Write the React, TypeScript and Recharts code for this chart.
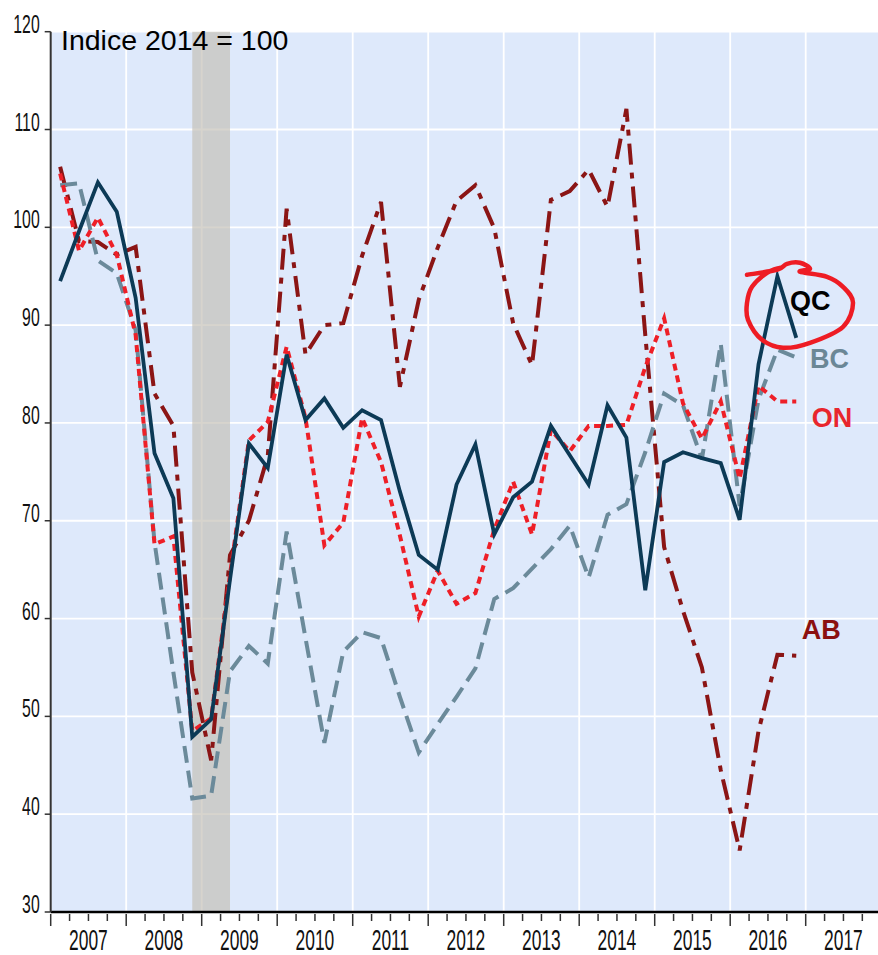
import { LineChart, Line, XAxis, YAxis, CartesianGrid, ReferenceArea, ReferenceDot } from 'recharts';

// quarterly index (2014 = 100), 2007T1 .. 2016T4
const YEARS = ['2007', '2008', '2009', '2010', '2011', '2012', '2013', '2014', '2015', '2016', '2017'];
const Y_TICKS = [30, 40, 50, 60, 70, 80, 90, 100, 110, 120];

const QC = [94.5, 99.6, 104.6, 101.6, 92.8, 76.9, 72.3, 47.9, 49.7, 64.0, 77.9, 75.4, 87.0, 80.3, 82.5, 79.5, 81.3, 80.3, 73.0, 66.5, 65.0, 73.7, 77.8, 68.6, 72.4, 74.0, 79.7, 76.7, 73.7, 81.8, 78.5, 62.9, 76.0, 77.0, 76.4, 75.9, 70.1, 86.0, 95.0, 88.7];
const BC = [104.3, 104.5, 96.6, 95.3, 89.5, 67.8, 54.5, 41.6, 41.9, 54.6, 57.2, 55.4, 68.9, 58.0, 47.3, 56.6, 58.6, 58.0, 52.0, 46.3, 49.2, 52.0, 54.9, 62.0, 63.1, 65.1, 67.1, 69.5, 64.2, 70.6, 71.7, 77.0, 83.0, 81.8, 76.3, 88.1, 71.5, 82.4, 87.5, 86.7];
const ON = [105.5, 97.6, 101.0, 97.2, 89.0, 67.6, 68.4, 48.5, 49.8, 64.5, 78.2, 80.1, 87.8, 80.5, 67.5, 69.8, 80.5, 76.0, 68.5, 60.2, 64.9, 61.5, 62.6, 69.1, 74.0, 68.6, 79.3, 77.1, 79.7, 79.7, 79.8, 85.7, 90.7, 82.0, 78.4, 82.2, 74.3, 83.8, 82.2, 82.2];
const AB = [106.2, 98.6, 98.5, 97.2, 98.0, 83.0, 79.7, 54.5, 45.5, 66.5, 70.0, 76.6, 101.9, 87.0, 90.0, 90.2, 97.1, 102.6, 83.7, 92.6, 97.9, 102.7, 104.3, 99.9, 90.2, 85.9, 102.8, 103.7, 105.9, 102.1, 112.1, 89.0, 67.3, 60.8, 55.0, 44.5, 36.3, 48.5, 56.3, 56.2];

// recession band, in quarters from 2007T1 (2008T4 .. 2009T2)
const RECESSION = [7.5, 9.5];

const data = QC.map((v, i) => ({ t: i + 0.5, QC: v, BC: BC[i], ON: ON[i], AB: AB[i] }));
const X_TICKS = [...YEARS.map((_, k) => k * 4), YEARS.length * 4];

const W = 882;
const H = 955;
const MARGIN = { top: 31.7, right: 0.8, left: 0.7, bottom: 3 };
const Y_W = 50;
const X_H = 40;
const QPX = (W - MARGIN.left - MARGIN.right - Y_W) / (YEARS.length * 4);
const FONT = '"Liberation Sans", Arial, sans-serif';

const LABELS = [
  { text: 'QC', t: 39.17, v: 91.5, color: '#000000' },
  { text: 'BC', t: 40.23, v: 85.6, color: '#6b8796' },
  { text: 'ON', t: 40.32, v: 79.6, color: '#e8262d' },
  { text: 'AB', t: 39.79, v: 57.9, color: '#8b1010' },
];

// hand-drawn ring around the QC label, offsets in px from its centre
const RING = [[-50, -21], [-20, -26], [-10, -32], [3, -33], [13, -27], [3, -24], [30, -19], [46, -9], [56, 7], [46, 31], [13, 47], [-14, 52], [-35, 44], [-49, 24], [-50, 7], [-45, -9], [-30, -23], [-17, -28]];

function smoothPath(pts: number[][], cx: number, cy: number) {
  const p = pts.map(([x, y]) => [cx + x, cy + y]);
  let d = `M${p[0][0]},${p[0][1]}`;
  for (let i = 0; i < p.length - 1; i++) {
    const p0 = p[i - 1] || p[i];
    const p1 = p[i];
    const p2 = p[i + 1];
    const p3 = p[i + 2] || p2;
    const c1 = [p1[0] + (p2[0] - p0[0]) / 6, p1[1] + (p2[1] - p0[1]) / 6];
    const c2 = [p2[0] - (p3[0] - p1[0]) / 6, p2[1] - (p3[1] - p1[1]) / 6];
    d += ` C${c1[0]},${c1[1]} ${c2[0]},${c2[1]} ${p2[0]},${p2[1]}`;
  }
  return d;
}

// narrow tick font: squeeze horizontally
function XTick(props: any) {
  const { x, y, payload } = props;
  const year = YEARS[payload.value / 4];
  return (
    <g>
      <line x1={x} x2={x} y1={y + 2} y2={y + 14} stroke="#333" strokeWidth={1.5} />
      {[1, 2, 3].map(j => (
        <line key={j} x1={x + j * QPX} x2={x + j * QPX} y1={y + 2} y2={y + 9} stroke="#333" strokeWidth={1.5} />
      ))}
      {year && (
        <text transform={`translate(${x + 2 * QPX},${y + 38}) scale(0.6,1)`} textAnchor="middle"
          fontSize={29} fontFamily={FONT} fill="#111">{year}</text>
      )}
    </g>
  );
}

function YTick(props: any) {
  const { x, y, payload } = props;
  return (
    <text transform={`translate(${x},${y + 1}) scale(0.62,1)`} textAnchor="end"
      fontSize={25.5} fontFamily={FONT} fill="#111">{payload.value}</text>
  );
}

export default function App() {
  return (
    <div style={{ position: 'absolute', left: 0, top: 0, width: 878, height: H, overflow: 'hidden', background: '#fff' }}>
      <LineChart width={W} height={H} data={data} margin={MARGIN}>
        <CartesianGrid stroke="#ffffff" strokeWidth={1.8} fill="#dee9fb" fillOpacity={1} />
        <XAxis dataKey="t" type="number" domain={[0, YEARS.length * 4]} ticks={X_TICKS} interval={0}
          height={X_H} tickSize={0} tickMargin={0} tickLine={false} tick={<XTick />}
          axisLine={{ stroke: '#000', strokeWidth: 2.5 }} allowDataOverflow />
        <YAxis type="number" domain={[30, 120]} ticks={Y_TICKS} interval={0} width={Y_W}
          tickSize={6} tickMargin={5} tick={<YTick />}
          tickLine={{ stroke: '#333', strokeWidth: 1.5 }} axisLine={{ stroke: '#333', strokeWidth: 2 }} allowDataOverflow />
        <ReferenceArea x1={RECESSION[0]} x2={RECESSION[1]} y1={30} y2={120}
          fill="rgb(196,191,182)" fillOpacity={0.68} stroke="none" />

        <Line dataKey="AB" stroke="#8b1515" strokeWidth={4} strokeDasharray="21 8 6 8" dot={false} activeDot={false} isAnimationActive={false} />
        <Line dataKey="BC" stroke="#6b8a9a" strokeWidth={4} strokeDasharray="17 8" dot={false} activeDot={false} isAnimationActive={false} />
        <Line dataKey="ON" stroke="#ee1f27" strokeWidth={4} strokeDasharray="7 5" dot={false} activeDot={false} isAnimationActive={false} />
        <Line dataKey="QC" stroke="#0c3a56" strokeWidth={3.8} dot={false} activeDot={false} isAnimationActive={false} />

        <ReferenceDot x={0} y={120} r={0} ifOverflow="visible"
          shape={(p: any) => (
            <text x={p.cx + 10.3} y={p.cy + 18.3} fontSize={28.5} fontFamily={FONT} fill="#000">Indice 2014 = 100</text>
          )} />
        {LABELS.map(l => (
          <ReferenceDot key={l.text} x={l.t} y={l.v} r={0} ifOverflow="visible"
            shape={(p: any) => (
              <text x={p.cx} y={p.cy} fontSize={27} fontWeight="bold" fontFamily={FONT} fill={l.color}>{l.text}</text>
            )} />
        ))}
        <ReferenceDot x={39.54} y={93} r={0} ifOverflow="visible"
          shape={(p: any) => (
            <path d={smoothPath(RING, p.cx, p.cy)} fill="none" stroke="#ee1c24" strokeWidth={4.5} strokeLinecap="round" strokeLinejoin="round" />
          )} />
      </LineChart>
    </div>
  );
}
